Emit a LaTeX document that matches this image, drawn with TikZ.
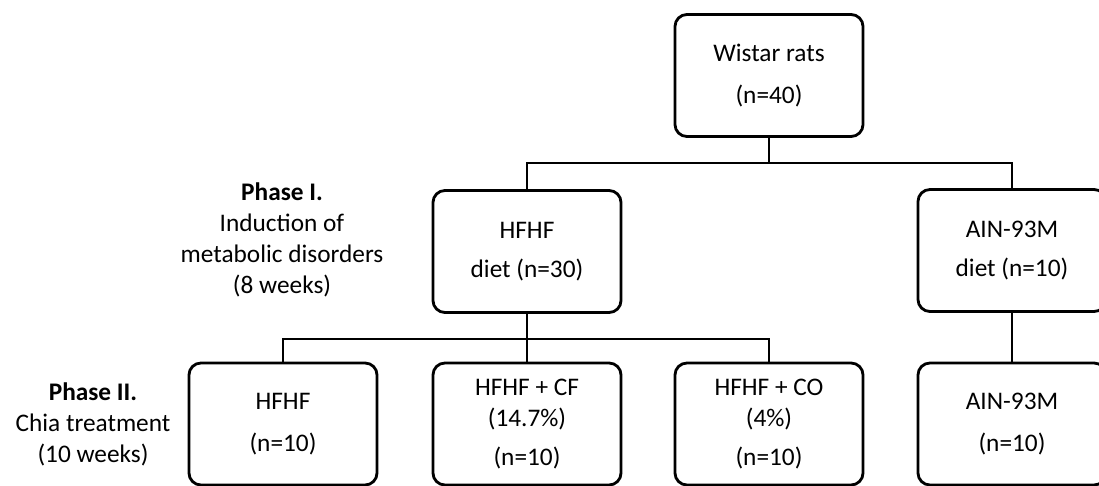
\documentclass[tikz,border=0pt]{standalone}
\usepackage{fontspec}
\setmainfont{Carlito}
\usetikzlibrary{calc}

\tikzset{
  box/.style={draw, line width=2pt, rounded corners=0.3cm, minimum width=4.7cm, minimum height=3.05cm, inner sep=0pt, align=center, font=\fontsize{18}{22}\selectfont},
  link/.style={line width=1.4pt},
  phase/.style={align=center, font=\fontsize{18}{22}\selectfont}
}

\begin{document}
\begin{tikzpicture}[x=0.025cm, y=-0.025cm]
    \clip (0,0) rectangle (1099,486);
    \pgfmathsetmacro{\ya}{163}	%first branch
    \pgfmathsetmacro{\yb}{339}	%second branch

    \node[box] (rats) at (769,75.5) {Wistar rats\\[8pt](n=40)};
    \node[box] (hfhf) at (527,251.5) {HFHF\\[6pt]diet (n=30)};
    \node[box] (ain) at (1012,250.5) {AIN-93M\\[6pt]diet (n=10)};

    \node[box] (t1) at (283,424) {HFHF\\[8pt](n=10)};
    \node[box] (t2) at (527,424) {HFHF + CF\\(14.7\%)\\[6pt](n=10)};
    \node[box] (t3) at (769,424) {HFHF + CO\\(4\%)\\[6pt](n=10)};
    \node[box] (t4) at (1012,424) {AIN-93M\\[8pt](n=10)};

    \node[phase] (p1) at (282,240) {\textbf{Phase I.}\\Induction of\\metabolic disorders\\(8 weeks)};
    \node[phase] (p2) at (93,424) {\textbf{Phase II.}\\Chia treatment\\(10 weeks)};

    \coordinate (ja) at (769,\ya);
    \coordinate (jb) at (527,\yb);

    \draw[link] (rats.south) -- (ja);
    \draw[link] (hfhf.north) |- (ja) -| (ain.north);
    \draw[link] (hfhf.south) -- (jb);
    \draw[link] (t1.north) |- (jb) -| (t3.north);
    \draw[link] (jb) -- (t2.north);
    \draw[link] (ain.south) -- (t4.north);
\end{tikzpicture}
\end{document}
